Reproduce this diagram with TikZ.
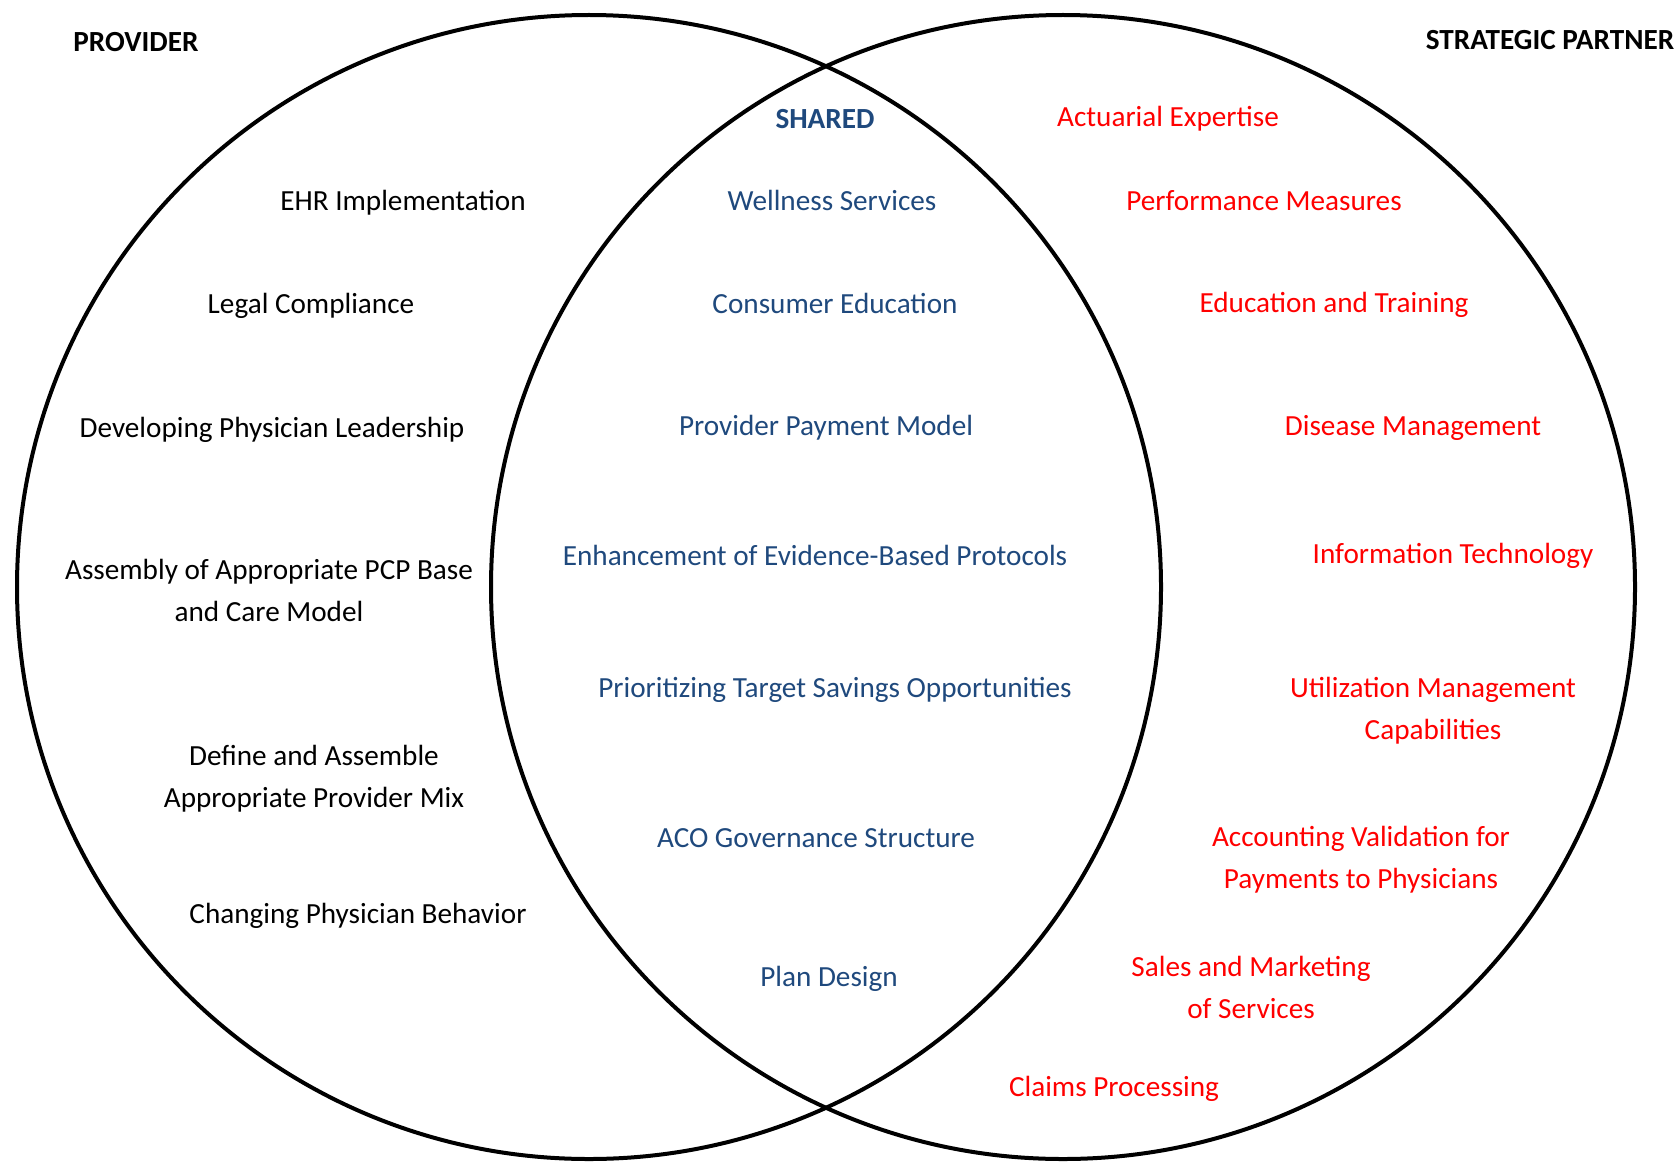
\documentclass[tikz,border=0pt]{standalone}
\usepackage{fontspec}
\setmainfont{Carlito}
\definecolor{sharedblue}{HTML}{1F497D}
\definecolor{partnerred}{HTML}{FF0000}

\begin{document}
\begin{tikzpicture}[x=0.5pt, y=-0.5pt, line cap=round, line join=round,
  every node/.style={font=\fontsize{14.6}{21}\selectfont, align=center, inner sep=0pt},
  head/.style={font=\fontsize{14.6}{21}\selectfont\bfseries},
  prov/.style={text=black},
  shr/.style={text=sharedblue},
  part/.style={text=partnerred}]

  \useasboundingbox (0,0) rectangle (1679,1161);
  \fill[white] (0,0) rectangle (1679,1161);

  \coordinate (L) at (589,587);
  \coordinate (R) at (1063,587);

  \draw[line width=2pt] (L) circle (572);
  \draw[line width=2pt] (R) circle (572);

  % headings
  \node[head, prov] (provider) at (136,42) {PROVIDER};
  \node[head, prov] (partner) at (1550,40) {STRATEGIC PARTNER};
  \node[head, shr] (shared) at (825,119) {SHARED};

  % provider side
  \node[prov] (ehr) at (403,203) {EHR Implementation};
  \node[prov] (legal) at (311,306) {Legal Compliance};
  \node[prov] (leadership) at (272,430) {Developing Physician Leadership};
  \node[prov] (pcp) at (269,590) {Assembly of Appropriate PCP Base\\and Care Model};
  \node[prov] (mix) at (314,779) {Define and Assemble\\Appropriate Provider Mix};
  \node[prov] (behavior) at (358,916) {Changing Physician Behavior};

  % shared middle
  \node[shr] (wellness) at (832,200) {Wellness Services};
  \node[shr] (education) at (835,303) {Consumer Education};
  \node[shr] (payment) at (826,428) {Provider Payment Model};
  \node[shr] (protocols) at (815,555) {Enhancement of Evidence-Based Protocols};
  \node[shr] (savings) at (835,690) {Prioritizing Target Savings Opportunities};
  \node[shr] (governance) at (816,838) {ACO Governance Structure};
  \node[shr] (plandesign) at (829,979) {Plan Design};

  % strategic partner side
  \node[part] (actuarial) at (1168,119) {Actuarial Expertise};
  \node[part] (measures) at (1264,201) {Performance Measures};
  \node[part] (training) at (1334,305) {Education and Training};
  \node[part] (disease) at (1413,428) {Disease Management};
  \node[part] (infotech) at (1453,556) {Information Technology};
  \node[part] (utilization) at (1433,711) {Utilization Management\\Capabilities};
  \node[part] (accounting) at (1361,860) {Accounting Validation for\\Payments to Physicians};
  \node[part] (sales) at (1251,987) {Sales and Marketing\\of Services};
  \node[part] (claims) at (1114,1089) {Claims Processing};

\end{tikzpicture}
\end{document}
